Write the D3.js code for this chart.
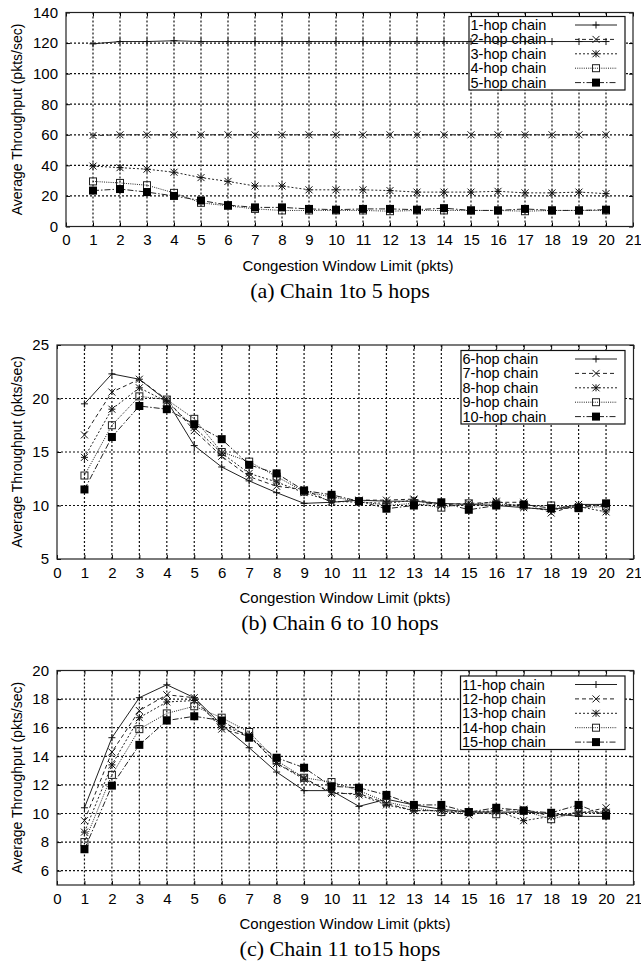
<!DOCTYPE html>
<html>
<head>
<meta charset="utf-8">
<script src="https://cdn.jsdelivr.net/npm/d3@7"></script>
<style>
  body { margin: 0; background: #fff; }
  svg { display: block; }
  text { font-family: "Liberation Sans", Arial, sans-serif; fill: #000; }
  .caption { font-family: "Liberation Serif", "Times New Roman", serif; }
</style>
</head>
<body>
<div id="vis"></div>
<script>
// congestion window limit (pkts)
var windowLimits = [1, 2, 3, 4, 5, 6, 7, 8, 9, 10, 11, 12, 13, 14, 15, 16, 17, 18, 19, 20];
var xTicks = [0, 1, 2, 3, 4, 5, 6, 7, 8, 9, 10, 11, 12, 13, 14, 15, 16, 17, 18, 19, 20, 21];

// (a) chain 1 to 5 hops
var hop1 = [119.5, 121, 121, 121.5, 121, 121, 121, 121, 121, 121, 121, 121, 121, 121, 121, 121, 121, 121, 121, 121];
var hop2 = [59.5, 60, 60, 60, 60, 60, 60, 60, 60, 60, 60, 60, 60, 60, 60, 60, 60, 60, 60, 60];
var hop3 = [39.5, 38.5, 37.5, 35.5, 32, 29.5, 26.5, 26.5, 24, 24, 24, 23.5, 22.5, 22.5, 22.5, 23, 22, 22, 22.5, 21.5];
var hop4 = [29.5, 28.5, 27, 22, 15.5, 13.5, 11.5, 10.5, 10.5, 10.5, 10.5, 10, 10.5, 10.5, 10.5, 10.5, 10, 10.5, 10.5, 10.5];
var hop5 = [23.5, 24.5, 22.5, 20, 17, 14, 12.5, 12.5, 11.5, 11, 11.5, 11.5, 11, 12, 10.5, 10.5, 11.5, 10.5, 10.5, 11];

// (b) chain 6 to 10 hops
var hop6 = [19.5, 22.3, 21.8, 19.8, 15.6, 13.6, 12.3, 11.2, 10.2, 10.3, 10.5, 10.4, 10.4, 10.2, 10.1, 10.0, 9.8, 9.6, 10.1, 10.1];
var hop7 = [16.6, 20.6, 21.8, 19.9, 17.0, 14.6, 12.7, 11.8, 11.5, 10.3, 10.5, 10.5, 10.6, 10.1, 10.2, 10.3, 10.3, 9.3, 10.1, 9.9];
var hop8 = [14.5, 19.0, 21.0, 19.7, 17.3, 14.9, 13.0, 12.2, 11.2, 10.4, 10.3, 10.2, 10.5, 10.0, 10.0, 10.4, 9.8, 9.6, 9.9, 9.4];
var hop9 = [12.8, 17.5, 20.2, 19.9, 18.1, 15.0, 14.1, 12.7, 11.3, 10.8, 10.4, 10.0, 10.2, 9.8, 10.2, 10.1, 10.0, 10.0, 9.8, 9.9];
var hop10 = [11.5, 16.4, 19.3, 19.0, 17.6, 16.2, 13.8, 13.0, 11.4, 11.0, 10.4, 9.7, 10.0, 10.3, 9.6, 10.0, 10.1, 9.75, 9.75, 10.2];

// (c) chain 11 to 15 hops
var hop11 = [10.4, 15.3, 18.1, 19.0, 18.1, 16.2, 14.6, 12.9, 11.6, 11.6, 10.5, 11.0, 10.6, 10.3, 10.1, 10.1, 10.1, 10.0, 9.8, 9.8];
var hop12 = [9.5, 14.3, 17.2, 18.3, 18.1, 15.9, 15.4, 13.5, 12.5, 11.4, 11.4, 10.7, 10.2, 10.2, 9.9, 10.2, 10.3, 9.8, 10.0, 10.4];
var hop13 = [8.7, 13.4, 16.7, 17.8, 17.9, 16.1, 15.5, 13.5, 12.4, 11.5, 11.3, 10.6, 10.2, 10.2, 10.1, 10.2, 9.5, 9.8, 10.1, 10.1];
var hop14 = [8.0, 12.7, 15.9, 17.0, 17.5, 16.7, 15.7, 13.7, 12.5, 12.2, 11.6, 10.8, 10.4, 10.1, 10.1, 9.95, 10.2, 9.6, 10.1, 10.0];
var hop15 = [7.5, 11.95, 14.8, 16.5, 16.8, 16.5, 15.3, 13.9, 13.2, 11.9, 11.8, 11.3, 10.6, 10.6, 10.1, 10.4, 10.2, 10.05, 10.6, 9.85];

var labelsA = ["1-hop chain", "2-hop chain", "3-hop chain", "4-hop chain", "5-hop chain"];
var labelsB = ["6-hop chain", "7-hop chain", "8-hop chain", "9-hop chain", "10-hop chain"];
var labelsC = ["11-hop chain", "12-hop chain", "13-hop chain", "14-hop chain", "15-hop chain"];

var yTicksA = [0, 20, 40, 60, 80, 100, 120, 140];
var yTicksB = [5, 10, 15, 20, 25];
var yTicksC = [6, 8, 10, 12, 14, 16, 18, 20];

var captions = ["(a) Chain 1to 5 hops", "(b) Chain 6 to 10 hops", "(c) Chain 11 to15 hops"];

// panel layout (pixels)
var panels = [
    { series: [hop1, hop2, hop3, hop4, hop5], labels: labelsA, yDomain: [0, 140], yTicks: yTicksA,
      left: 66, right: 633, top: 12.5, bottom: 226.5, legend: [469, 16.5, 625, 90], caption: captions[0] },
    { series: [hop6, hop7, hop8, hop9, hop10], labels: labelsB, yDomain: [5, 25], yTicks: yTicksB,
      left: 57, right: 633.5, top: 345, bottom: 559, legend: [461, 350.5, 625, 424], caption: captions[1] },
    { series: [hop11, hop12, hop13, hop14, hop15], labels: labelsC, yDomain: [5, 20], yTicks: yTicksC,
      left: 57, right: 633.5, top: 670.5, bottom: 885, legend: [460.5, 676, 625, 749.5], caption: captions[2] }
];

// line styles: solid, dashed, short-dashed, dotted, dash-dot
var dashes = [null, "4,3", "2,2", "1,1.2", "6,2,1.5,2"];
var markers = ["plus", "cross", "star", "box", "fbox"];

var svg = d3.select("#vis").append("svg")
    .attr("width", 641)
    .attr("height", 963);

function markerPath(type) {
    var r = 3.5;
    var plus = "M" + (-r) + ",0H" + r + "M0," + (-r) + "V" + r;
    var cross = "M" + (-r) + "," + (-r) + "L" + r + "," + r + "M" + (-r) + "," + r + "L" + r + "," + (-r);
    if (type == "plus") return plus;
    if (type == "cross") return cross;
    if (type == "star") return plus + cross;
    return null;
}

function drawMarker(g, type, px, py) {
    if (type == "box") {
        g.append("rect").attr("x", px - 3.5).attr("y", py - 3.5).attr("width", 7).attr("height", 7)
            .attr("fill", "none").attr("stroke", "#222").attr("stroke-width", 1);
    } else if (type == "fbox") {
        g.append("rect").attr("x", px - 4).attr("y", py - 4).attr("width", 8).attr("height", 8)
            .attr("fill", "#000");
    } else {
        g.append("path").attr("d", markerPath(type))
            .attr("transform", "translate(" + px + "," + py + ")")
            .attr("fill", "none").attr("stroke", "#111").attr("stroke-width", 1);
    }
}

panels.forEach(function(p, pi) {
    var x = d3.scaleLinear().domain([0, 21]).range([p.left, p.right]);
    var y = d3.scaleLinear().domain(p.yDomain).range([p.bottom, p.top]);

    var g = svg.append("g");

    // dotted grid
    var innerY = p.yTicks.filter(function(d) { return d > p.yDomain[0] && d < p.yDomain[1]; });
    g.selectAll("path.vgrid").data(xTicks.slice(1, -1)).enter().append("path")
        .attr("class", "vgrid")
        .attr("d", function(d) { return "M" + x(d) + "," + p.top + "V" + p.bottom; })
        .attr("stroke", "#111").attr("stroke-width", 1.2)
        .attr("stroke-dasharray", "2,2").attr("fill", "none");
    g.selectAll("path.hgrid").data(innerY).enter().append("path")
        .attr("class", "hgrid")
        .attr("d", function(d) { return "M" + p.left + "," + y(d) + "H" + p.right; })
        .attr("stroke", "#111").attr("stroke-width", 1.2)
        .attr("stroke-dasharray", "2,2").attr("fill", "none");

    // axes (ticks inward, mirrored)
    var xAxis = d3.axisBottom(x).tickValues(xTicks).tickSize(-4).tickPadding(8).tickFormat(d3.format("d"));
    var xAxisTop = d3.axisTop(x).tickValues(xTicks).tickSize(-4).tickFormat("");
    var yAxis = d3.axisLeft(y).tickValues(p.yTicks).tickSize(-4).tickPadding(8).tickFormat(d3.format("d"));
    var yAxisRight = d3.axisRight(y).tickValues(p.yTicks).tickSize(-4).tickFormat("");

    [g.append("g").attr("transform", "translate(0," + p.bottom + ")").call(xAxis),
     g.append("g").attr("transform", "translate(0," + p.top + ")").call(xAxisTop),
     g.append("g").attr("transform", "translate(" + p.left + ",0)").call(yAxis),
     g.append("g").attr("transform", "translate(" + p.right + ",0)").call(yAxisRight)]
        .forEach(function(a) {
            a.select(".domain").remove();
            a.selectAll("line").attr("stroke", "#000");
            a.selectAll("text").attr("font-size", 15).attr("font-family", "Liberation Sans, Arial, sans-serif");
        });

    // frame
    g.append("rect").attr("x", p.left).attr("y", p.top)
        .attr("width", p.right - p.left).attr("height", p.bottom - p.top)
        .attr("fill", "none").attr("stroke", "#222").attr("stroke-width", 1.2);

    // axis titles
    g.append("text")
        .attr("transform", "translate(17," + ((p.top + p.bottom) / 2) + ") rotate(-90)")
        .attr("text-anchor", "middle").attr("dominant-baseline", "central")
        .attr("font-size", 14)
        .text("Average Throughput (pkts/sec)");
    g.append("text")
        .attr("x", pi == 0 ? 348 : 345).attr("y", p.bottom + 44)
        .attr("text-anchor", "middle").attr("font-size", 15)
        .text("Congestion Window Limit (pkts)");
    g.append("text").attr("class", "caption")
        .attr("x", 340).attr("y", p.bottom + 71)
        .attr("text-anchor", "middle").attr("font-size", 22)
        .text(p.caption);

    // legend box (drawn under the data)
    var lb = p.legend;
    g.append("rect").attr("x", lb[0]).attr("y", lb[1])
        .attr("width", lb[2] - lb[0]).attr("height", lb[3] - lb[1])
        .attr("fill", "#fff").attr("stroke", "#111").attr("stroke-width", 1.2);
    p.labels.forEach(function(lab, i) {
        var ly = lb[1] + 8.5 + i * 14.4;
        g.append("text").attr("x", lb[0] + 1.5).attr("y", ly)
            .attr("dominant-baseline", "central").attr("font-size", 14.5).text(lab);
        var seg = g.append("line").attr("x1", 575).attr("x2", 617).attr("y1", ly).attr("y2", ly)
            .attr("stroke", "#222").attr("stroke-width", 1);
        if (dashes[i]) seg.attr("stroke-dasharray", dashes[i]);
        drawMarker(g, markers[i], 596, ly);
    });

    // data lines
    var line = d3.line()
        .x(function(d, i) { return x(windowLimits[i]); })
        .y(function(d) { return y(d); });

    p.series.forEach(function(s, i) {
        var path = g.append("path").datum(s)
            .attr("fill", "none").attr("stroke", "#222").attr("stroke-width", 1)
            .attr("d", line);
        if (dashes[i]) path.attr("stroke-dasharray", dashes[i]);
        s.forEach(function(v, j) {
            drawMarker(g, markers[i], x(windowLimits[j]), y(v));
        });
    });
});
</script>
</body>
</html>
